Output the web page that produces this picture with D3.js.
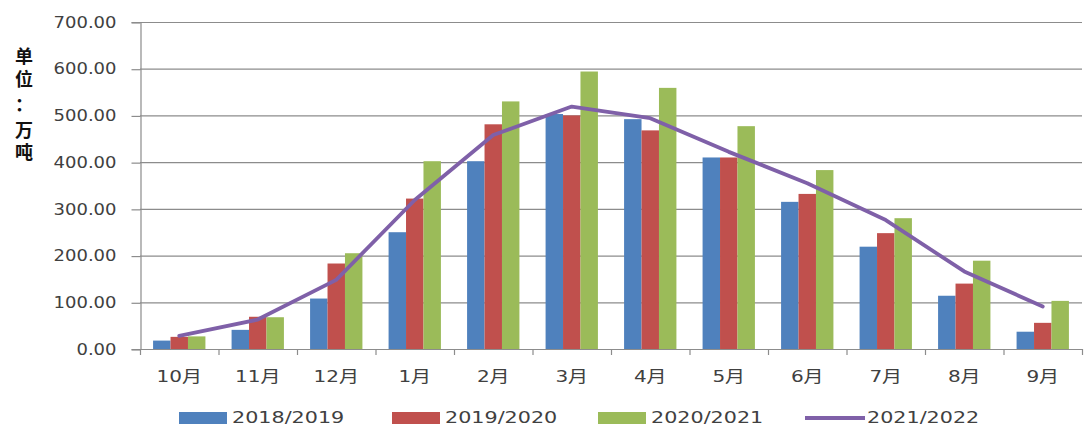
<!DOCTYPE html>
<html>
<head>
<meta charset="utf-8">
<script src="https://cdn.jsdelivr.net/npm/d3@7"></script>
<style>
  html, body { margin: 0; padding: 0; background: #fff; }
  svg { display: block; }
  text { font-family: "DejaVu Sans", "Noto Sans CJK SC", sans-serif; fill: #404040; }
</style>
</head>
<body>
<svg id="chart" width="1092" height="427"></svg>
<script>
// Monthly values, 万吨
const months = ["10月", "11月", "12月", "1月", "2月", "3月", "4月", "5月", "6月", "7月", "8月", "9月"];
const seasonA = [18, 41, 108, 250, 402, 503, 492, 410, 315, 219, 114, 37];   // 2018/2019
const seasonB = [26, 69, 183, 322, 481, 500, 468, 410, 332, 248, 140, 56];   // 2019/2020
const seasonC = [27, 68, 205, 402, 530, 594, 559, 477, 383, 280, 189, 103];  // 2020/2021
const seasonD = [28, 63, 148, 319, 458, 519, 494, 422, 355, 276, 166, 91];   // 2021/2022
const barSeriesNames = ["2018/2019", "2019/2020", "2020/2021"];
const lineSeriesName = "2021/2022";
const yTicks = [0, 100, 200, 300, 400, 500, 600, 700];
const yTitleChars = ["单", "位", "：", "万", "吨"];

const barColors = ["#4f81bd", "#c0504d", "#9bbb59"];
const lineColor = "#7f60a8";
const axisColor = "#8c8c8c";

const svg = d3.select("#chart");
const plot = { left: 140, right: 1082, top: 22, bottom: 349 };

const x0 = d3.scaleBand().domain(months).range([plot.left, plot.right])
  .paddingInner(1 / 3).paddingOuter(1 / 6);
const x1 = d3.scaleBand().domain(barSeriesNames).range([0, x0.bandwidth()]);
const y = d3.scaleLinear().domain([0, 700]).range([plot.bottom, plot.top]);

// horizontal gridlines
svg.append("g").selectAll("line").data(yTicks.filter(d => d > 0)).join("line")
  .attr("x1", plot.left).attr("x2", plot.right)
  .attr("y1", d => y(d) + 0.5).attr("y2", d => y(d) + 0.5)
  .attr("stroke", axisColor).attr("stroke-width", 1.2);

// bars
const barData = [seasonA, seasonB, seasonC];
const groups = svg.append("g").selectAll("g").data(months).join("g")
  .attr("transform", d => `translate(${x0(d)},0)`);
groups.selectAll("rect")
  .data((m, i) => barData.map((s, k) => ({ name: barSeriesNames[k], v: s[i], k })))
  .join("rect")
  .attr("x", d => x1(d.name))
  .attr("width", x1.bandwidth())
  .attr("y", d => y(d.v))
  .attr("height", d => y(0) - y(d.v))
  .attr("fill", d => barColors[d.k]);

// y axis
const yAxis = d3.axisLeft(y).tickValues(yTicks).tickSize(9).tickFormat(d3.format(".2f"));
const gy = svg.append("g").attr("transform", `translate(${plot.left + 0.5},0)`).call(yAxis);
gy.select(".domain").attr("stroke", axisColor).attr("stroke-width", 1.2);
gy.selectAll(".tick line").attr("stroke", axisColor).attr("stroke-width", 1.2)
  .attr("transform", "translate(0,0.5)");
gy.selectAll(".tick text").remove();
gy.selectAll(".tick").append("text")
  .attr("transform", "translate(-24,0) scale(1.2,1)")
  .attr("text-anchor", "end").attr("dy", "0.35em")
  .style("font-size", "15px").style("fill", "#404040")
  .text(d => d3.format(".2f")(d));

// x axis with ticks at category boundaries
const gx = svg.append("g");
gx.append("line").attr("x1", plot.left).attr("x2", plot.right)
  .attr("y1", plot.bottom + 0.5).attr("y2", plot.bottom + 0.5)
  .attr("stroke", axisColor).attr("stroke-width", 1.2);
const boundaries = months.map(m => x0(m) - x0.step() * x0.paddingInner() / 2)
  .concat([plot.right]);
gx.selectAll("line.tk").data(boundaries).join("line").attr("class", "tk")
  .attr("x1", d => d + 0.5).attr("x2", d => d + 0.5)
  .attr("y1", plot.bottom).attr("y2", plot.bottom + 6)
  .attr("stroke", axisColor).attr("stroke-width", 1.2);
gx.selectAll("text").data(months).join("text")
  .attr("transform", d => `translate(${x0(d) + x0.bandwidth() / 2},376) scale(1.25,1)`)
  .attr("text-anchor", "middle").attr("dy", "0.35em")
  .style("font-size", "16px")
  .text(d => d);

// 2021/2022 line
const line = d3.line()
  .x((d, i) => x0(months[i]) + x0.bandwidth() / 2)
  .y(d => y(d));
svg.append("path").datum(seasonD)
  .attr("d", line).attr("fill", "none")
  .attr("stroke", lineColor).attr("stroke-width", 3.8)
  .attr("stroke-linejoin", "round").attr("stroke-linecap", "round");

// y-axis title, stacked characters
svg.append("g").selectAll("text").data(yTitleChars).join("text")
  .attr("x", 24).attr("y", (d, i) => [57, 80, 105, 131, 153][i])
  .attr("text-anchor", "middle").attr("dy", "0.35em")
  .style("font-size", "18px").style("font-weight", "bold").style("fill", "#111")
  .text(d => d);

// legend
const legendItems = [
  { name: barSeriesNames[0], color: barColors[0], type: "rect", x: 179 },
  { name: barSeriesNames[1], color: barColors[1], type: "rect", x: 392 },
  { name: barSeriesNames[2], color: barColors[2], type: "rect", x: 598 },
  { name: lineSeriesName, color: lineColor, type: "line", x: 805 }
];
const lg = svg.append("g").selectAll("g").data(legendItems).join("g")
  .attr("transform", d => `translate(${d.x},418)`);
lg.filter(d => d.type === "rect").append("rect")
  .attr("x", 0).attr("y", -6).attr("width", 48).attr("height", 12)
  .attr("fill", d => d.color);
lg.filter(d => d.type === "line").append("line")
  .attr("x1", 0).attr("x2", 60).attr("y1", 0).attr("y2", 0)
  .attr("stroke", d => d.color).attr("stroke-width", 3.8);
lg.append("text")
  .attr("transform", d => `translate(${d.type === "rect" ? 53 : 62},0) scale(1.38,1)`)
  .attr("dy", "0.35em").style("font-size", "15px")
  .text(d => d.name);
</script>
</body>
</html>
